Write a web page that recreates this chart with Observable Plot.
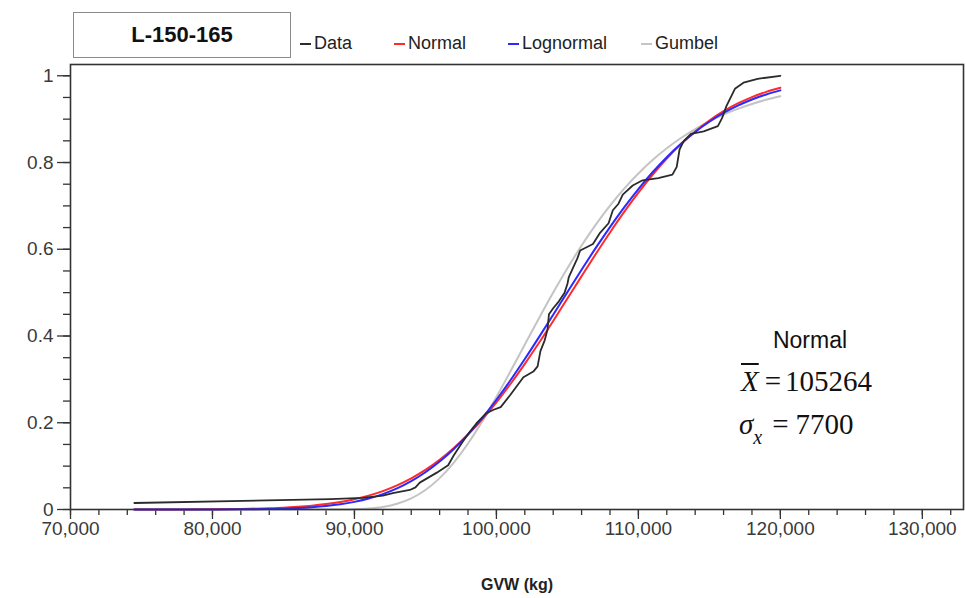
<!DOCTYPE html>
<html>
<head>
<meta charset="utf-8">
<script src="https://cdn.jsdelivr.net/npm/d3@7"></script>
<script src="https://cdn.jsdelivr.net/npm/@observablehq/plot@0.6"></script>
<style>
  html, body { margin: 0; padding: 0; background: #fff; }
  #wrap { position: relative; width: 966px; height: 598px; font-family: "Liberation Sans", Arial, sans-serif; }
  #chart { position: absolute; left: 0; top: 0; }
  .abs { position: absolute; white-space: nowrap; }
  #titlebox { left: 73px; top: 12px; width: 216px; height: 44px; border: 1px solid #8a8a8a; background: #fff;
    display: flex; align-items: center; justify-content: center; font-weight: bold; font-size: 22px; color: #111; }
  .leg { top: 33px; font-size: 18px; color: #222; display: flex; align-items: center; }
  .sw { display: inline-block; width: 11px; height: 2px; margin-right: 3px; }
  #xlabel { left: 0; width: 1034px; top: 576px; text-align: center; font-weight: bold; font-size: 16px; color: #222; }
  #ann1 { left: 810px; top: 327px; transform: translateX(-50%); font-size: 23px; color: #111; }
  .math { font-family: "Liberation Serif", "Times New Roman", serif; font-size: 29px; color: #111; }
  #ann2 { left: 741px; top: 365px; }
  #ann3 { left: 739px; top: 408px; }
  .ov { text-decoration: overline; text-decoration-thickness: 1.5px; }
  .gap { display: inline-block; }
</style>
</head>
<body>
<div id="wrap">
  <div id="chart"></div>
  <div id="titlebox" class="abs"></div>
  <div id="legend"></div>
  <div id="xlabel" class="abs"></div>
  <div id="ann1" class="abs"></div>
  <div id="ann2" class="abs math"><i class="ov">X</i><span class="gap" style="width:6px"></span>=<span class="gap" style="width:4px"></span>105264</div>
  <div id="ann3" class="abs math"><i>σ</i><sub style="font-size:20px;position:relative;top:3px;"><i>x</i></sub><span class="gap" style="width:10px"></span>=<span class="gap" style="width:7px"></span>7700</div>
</div>
<script>
// ---- Data ----
const chartTitle = "L-150-165";
const seriesNames = ["Data", "Normal", "Lognormal", "Gumbel"];
const seriesColors = ["#2b2b2b", "#ff2a2a", "#2a2aff", "#c4c4c4"];
const xAxisTitle = "GVW (kg)";
const annotationTitle = "Normal";

const xTicks = [70000, 80000, 90000, 100000, 110000, 120000, 130000];
const yTicks = [0, 0.2, 0.4, 0.6, 0.8, 1];

// Fitted curves at these GVW values
const xGrid = [74500,78000,80000,82000,84000,85000,86000,87000,88000,89000,90000,91000,92000,93000,94000,95000,96000,97000,98000,99000,100000,101000,102000,103000,104000,105000,106000,107000,108000,109000,110000,111000,112000,113000,114000,115000,116000,117000,118000,119000,120000];
const normalCdf = [0.0000,0.0002,0.0005,0.0013,0.0029,0.0042,0.0062,0.0088,0.0125,0.0173,0.0237,0.0320,0.0424,0.0556,0.0718,0.0913,0.1145,0.1416,0.1728,0.2080,0.2471,0.2899,0.3358,0.3844,0.4348,0.4864,0.5381,0.5892,0.6388,0.6862,0.7307,0.7718,0.8092,0.8425,0.8717,0.8970,0.9184,0.9363,0.9509,0.9628,0.9722];
const lognormalCdf = [0.0000,0.0000,0.0001,0.0004,0.0011,0.0019,0.0032,0.0051,0.0079,0.0119,0.0176,0.0252,0.0355,0.0486,0.0653,0.0858,0.1105,0.1397,0.1733,0.2111,0.2531,0.2985,0.3469,0.3974,0.4491,0.5012,0.5528,0.6031,0.6512,0.6967,0.7389,0.7775,0.8123,0.8433,0.8705,0.8940,0.9142,0.9311,0.9453,0.9570,0.9664];
const gumbelCdf = [0,0,0,0,0,0,0.0000,0.0000,0.0000,0.0002,0.0008,0.0024,0.0060,0.0132,0.0257,0.0450,0.0723,0.1082,0.1522,0.2032,0.2595,0.3191,0.3803,0.4411,0.5001,0.5562,0.6086,0.6567,0.7005,0.7399,0.7748,0.8057,0.8329,0.8566,0.8772,0.8950,0.9104,0.9236,0.9349,0.9446,0.9529];

// Empirical CDF (Data)
const dataX = [74500,88300,90600,92000,92700,93900,94300,94600,95800,96600,97000,97600,98100,98600,99300,99800,100300,101000,101900,102600,102900,103100,103400,103600,103700,104000,104400,104800,105000,105100,105700,105900,106800,107300,107900,108200,108600,108900,109600,110300,111400,112400,112700,112900,113200,113700,114600,115600,115900,116200,116800,117400,118400,120000];
const dataY = [0.015,0.024,0.027,0.032,0.038,0.045,0.051,0.062,0.085,0.102,0.125,0.155,0.178,0.199,0.222,0.230,0.236,0.265,0.305,0.318,0.330,0.365,0.390,0.415,0.450,0.464,0.480,0.500,0.520,0.536,0.579,0.597,0.612,0.638,0.660,0.690,0.705,0.726,0.747,0.759,0.764,0.772,0.790,0.830,0.850,0.866,0.872,0.884,0.903,0.930,0.970,0.984,0.993,1.000];

// ---- Build tables ----
const fitted = [];
xGrid.forEach((x, i) => fitted.push({x, y: gumbelCdf[i], s: "Gumbel"}));
xGrid.forEach((x, i) => fitted.push({x, y: normalCdf[i], s: "Normal"}));
xGrid.forEach((x, i) => fitted.push({x, y: lognormalCdf[i], s: "Lognormal"}));
const dataRows = dataX.map((x, i) => ({x, y: dataY[i], s: "Data"}));

const xMinor = d3.range(70000, 132001, 2000);
const yMinor = d3.range(0, 1.001, 0.05).map(v => +v.toFixed(2));
const colorOf = Object.fromEntries(seriesNames.map((n, i) => [n, seriesColors[i]]));

const plot = Plot.plot({
  width: 966,
  height: 598,
  marginLeft: 70,
  marginRight: 3,
  marginTop: 64,
  marginBottom: 89,
  style: { fontFamily: "'Liberation Sans', Arial, sans-serif", fontSize: "19px", color: "#333", background: "transparent" },
  x: { domain: [70000, 132900], label: null },
  y: { domain: [0, 1.026], label: null },
  marks: [
    Plot.axisX(xMinor, { tickSize: 6, tickFormat: () => "", label: null, stroke: "#333", strokeWidth: 1.3 }),
    Plot.axisX(xTicks, { tickSize: 10, tickPadding: 2, tickFormat: d3.format(","), label: null, stroke: "#333", strokeWidth: 1.3, fill: "#3a3a3a" }),
    Plot.axisY(yMinor, { tickSize: 7, tickFormat: () => "", label: null, stroke: "#333", strokeWidth: 1.3 }),
    Plot.axisY(yTicks, { tickSize: 13, tickPadding: 4, tickFormat: d => String(d), label: null, stroke: "#333", strokeWidth: 1.3, fill: "#3a3a3a" }),
    Plot.line(fitted.filter(d => d.s === "Gumbel"), { x: "x", y: "y", stroke: colorOf["Gumbel"], strokeWidth: 2, curve: "monotone-x" }),
    Plot.line(fitted.filter(d => d.s === "Normal"), { x: "x", y: "y", stroke: colorOf["Normal"], strokeWidth: 2, curve: "monotone-x" }),
    Plot.line(fitted.filter(d => d.s === "Lognormal"), { x: "x", y: "y", stroke: colorOf["Lognormal"], strokeWidth: 2, curve: "monotone-x" }),
    Plot.line(dataRows, { x: "x", y: "y", stroke: colorOf["Data"], strokeWidth: 1.8, curve: "linear", strokeLinejoin: "round" }),
    Plot.frame({ stroke: "#333", strokeWidth: 1.6 })
  ]
});
document.getElementById("chart").appendChild(plot);

// ---- Text overlays ----
document.getElementById("titlebox").textContent = chartTitle;
document.getElementById("xlabel").textContent = xAxisTitle;
document.getElementById("ann1").textContent = annotationTitle;

const legendX = [300, 394, 508, 641];
const legend = document.getElementById("legend");
seriesNames.forEach((name, i) => {
  const item = document.createElement("div");
  item.className = "abs leg";
  item.style.left = legendX[i] + "px";
  const sw = document.createElement("span");
  sw.className = "sw";
  sw.style.background = seriesColors[i];
  const t = document.createElement("span");
  t.textContent = name;
  item.appendChild(sw);
  item.appendChild(t);
  legend.appendChild(item);
});
</script>
</body>
</html>
